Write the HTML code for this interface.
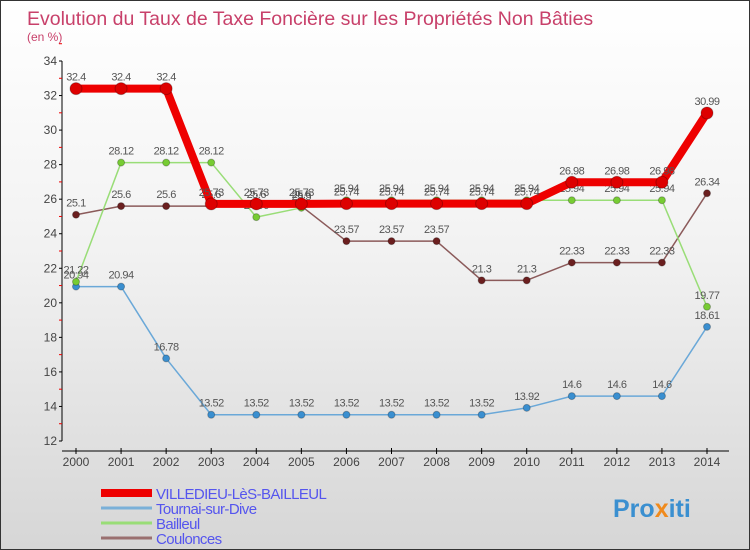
<!DOCTYPE html>
<html><head><meta charset="utf-8"><style>
body{margin:0}
#c{width:750px;height:550px;position:relative;overflow:hidden;background:linear-gradient(#fff,#f2f2f2 45%,#d6d6d6);border:1px solid #333;box-sizing:border-box;font-family:"Liberation Sans",sans-serif}
</style></head><body>
<div id="c">
<svg id="s" width="750" height="550">
<text x="26" y="24" font-size="19.5" fill="#c8406a">Evolution du Taux de Taxe Foncière sur les Propriétés Non Bâties</text>
<text x="26" y="40" font-size="12" fill="#c8406a">(en %)</text>
<text x="612" y="516" font-size="25" font-weight="bold" fill="#3a8fd0">Pro<tspan fill="#f08a1c">x</tspan>iti</text>
</svg>
</div>
<script>
const years=[2000,2001,2002,2003,2004,2005,2006,2007,2008,2009,2010,2011,2012,2013,2014];
const yTicks=[12,14,16,18,20,22,24,26,28,30,32,34];
const villedieu=[32.4,32.4,32.4,25.73,25.73,25.73,25.74,25.74,25.74,25.74,25.74,26.98,26.98,26.98,30.99];
const tournai=[20.94,20.94,16.78,13.52,13.52,13.52,13.52,13.52,13.52,13.52,13.92,14.6,14.6,14.6,18.61];
const bailleul=[21.22,28.12,28.12,28.12,24.96,25.5,25.94,25.94,25.94,25.94,25.94,25.94,25.94,25.94,19.77];
const coulonces=[25.1,25.6,25.6,25.6,25.6,25.6,23.57,23.57,23.57,21.3,21.3,22.33,22.33,22.33,26.34];
const names=["VILLEDIEU-LèS-BAILLEUL","Tournai-sur-Dive","Bailleul","Coulonces"];
const NS="http://www.w3.org/2000/svg",s=document.getElementById('s');
const X=i=>75+i*(706-75)/(years.length-1);
const Y=v=>440-(v-12)/(34-12)*380;
function el(t,a,p){const e=document.createElementNS(NS,t);for(const k in a)e.setAttribute(k,a[k]);(p||s).appendChild(e);return e;}
let ax=el('line',{x1:61,y1:60,x2:61,y2:440,stroke:'#000'});


yTicks.forEach(v=>{el('line',{x1:58,x2:61,y1:Y(v),y2:Y(v),stroke:'#000'});
el('line',{x1:58,x2:61,y1:Y(v+1),y2:Y(v+1),stroke:'#e00'});
const t=el('text',{x:56,y:Y(v)+4,'font-size':12,'text-anchor':'end',fill:'#444'});t.textContent=v;

});
let xa=el('line',{x1:61,y1:450,x2:728,y2:450,stroke:'#000'});


years.forEach((y,i)=>{el('line',{x1:X(i),x2:X(i),y1:447,y2:453,stroke:'#000'});
const t=el('text',{x:X(i),y:465,'font-size':12,'text-anchor':'middle',fill:'#444'});t.textContent=y;

});
function series(d,col,w,r,fill,nm){
const g=el('g',{});


el('polyline',{points:d.map((v,i)=>X(i)+','+Y(v)).join(' '),fill:'none',stroke:col,'stroke-width':w,'stroke-linejoin':'round'},g);
d.forEach((v,i)=>{const c=el('circle',{cx:X(i),cy:Y(v),r:r,fill:fill,stroke:'rgba(0,0,0,0.25)'},g);


const t=el('text',{x:X(i),y:Y(v)-8,'font-size':11,'text-anchor':'middle',fill:'#555','letter-spacing':'-0.5'},g);t.textContent=v;

});}
series(tournai,'#6aa8d8',1.5,3.5,'#3a8fd0','tournai');
series(coulonces,'#8b5a5a',1.5,3.5,'#6b1f1f','coulonces');
series(bailleul,'#99dd77',1.5,3.5,'#77cc33','bailleul');
series(villedieu,'#ee0000',8,6,'#dd0000','villedieu');
const lc=['#ee0000','#7ab0d8','#99dd77','#9a7070'],lw=[8,3,3,3];
names.forEach((n,i)=>{const y=492+i*15;
const g=el('g',{});


el('line',{x1:100,x2:151,y1:y,y2:y,stroke:lc[i],'stroke-width':lw[i]},g);
const t=el('text',{x:155,y:y+6,'font-size':15,fill:'#5555ee','letter-spacing':'-0.6'},g);t.textContent=n;});
</script>
</body></html>
